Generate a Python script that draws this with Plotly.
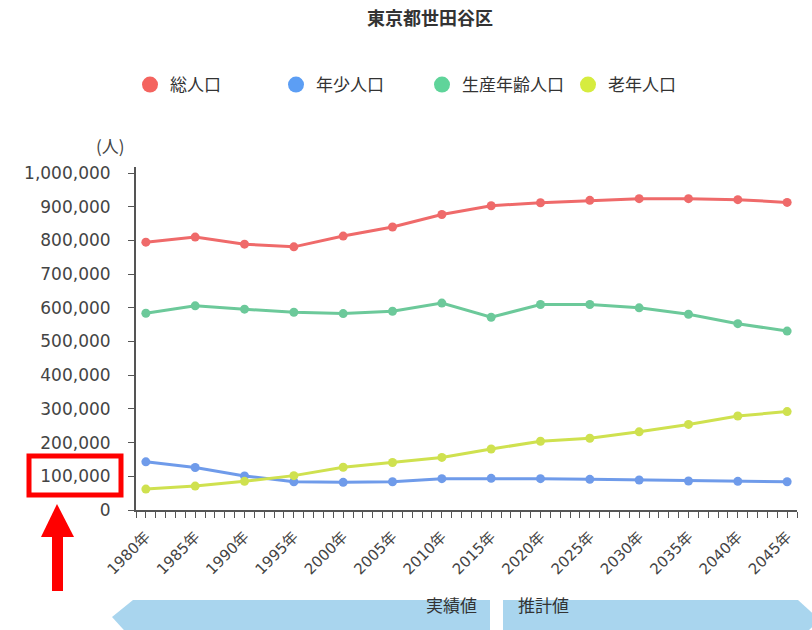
import plotly.graph_objects as go

years = [1980, 1985, 1990, 1995, 2000, 2005, 2010, 2015, 2020, 2025, 2030, 2035, 2040, 2045]
year_labels = [f"{y}年" for y in years]
total = [795000, 810000, 789000, 781000, 813000, 840000, 877000, 903000, 912000, 919000, 924000, 924000, 921000, 913000]
young = [143000, 126000, 101000, 84000, 82000, 84000, 93000, 94000, 93000, 91000, 89000, 86000, 85000, 84000]
working = [584000, 606000, 596000, 587000, 583000, 590000, 614000, 572000, 610000, 610000, 600000, 581000, 553000, 531000]
elderly = [62000, 71000, 85000, 102000, 127000, 141000, 156000, 181000, 204000, 213000, 232000, 254000, 279000, 292000]

names = ["総人口", "年少人口", "生産年齢人口", "老年人口"]
series = [total, young, working, elderly]
line_colors = ["#ef6a6a", "#6f9bea", "#6cc99a", "#cfe14f"]
legend_colors = ["#f4645f", "#5c9ef4", "#5fd49a", "#d6ec3f"]

FONT = "Noto Sans CJK JP"
NUMFONT = "DejaVu Sans, Noto Sans CJK JP"
W, H = 812, 630
L, R, T, B = 136, 15, 167, 120
PW, PH = W - L - R, H - T - B


def X(px):
    return (px - L) / PW


def Y(py):
    return (H - B - py) / PH


fig = go.Figure()
for name, vals, lc in zip(names, series, line_colors):
    fig.add_trace(go.Scatter(
        x=years, y=vals, mode="lines+markers", name=name,
        line=dict(color=lc, width=3),
        marker=dict(color=lc, size=9),
        showlegend=False, legendgroup=name,
    ))
for name, gc in zip(names, legend_colors):
    fig.add_trace(go.Scatter(
        x=[None], y=[None], mode="markers", name=name,
        marker=dict(color=gc, size=20), legendgroup=name, showlegend=True,
    ))

shapes = []
banner = "#a9d5ee"
shapes.append(dict(type="path", xref="paper", yref="paper",
                   path=f"M{X(112)},{Y(617)} L{X(133)},{Y(600)} L{X(490)},{Y(600)} L{X(490)},{Y(640)} L{X(133)},{Y(640)} Z",
                   fillcolor=banner, line=dict(width=0), layer="below"))
shapes.append(dict(type="path", xref="paper", yref="paper",
                   path=f"M{X(503)},{Y(600)} L{X(798)},{Y(600)} L{X(820)},{Y(620)} L{X(798)},{Y(640)} L{X(503)},{Y(640)} Z",
                   fillcolor=banner, line=dict(width=0), layer="below"))
shapes.append(dict(type="rect", xref="paper", yref="paper",
                   x0=X(29), x1=X(121), y0=Y(456), y1=Y(495),
                   line=dict(color="#ff0000", width=5)))
shapes.append(dict(type="path", xref="paper", yref="paper",
                   path=f"M{X(41)},{Y(537)} L{X(57)},{Y(504)} L{X(74)},{Y(537)} Z",
                   fillcolor="#ff0000", line=dict(width=0)))
shapes.append(dict(type="rect", xref="paper", yref="paper",
                   x0=X(52), x1=X(63), y0=Y(536), y1=Y(591),
                   fillcolor="#ff0000", line=dict(width=0)))

annotations = [
    dict(text="(人)", xref="paper", yref="paper", x=X(127), y=Y(160), xanchor="right", yanchor="bottom",
         showarrow=False, font=dict(family=FONT, size=17, color="#444")),
    dict(text="実績値", xref="paper", yref="paper", x=X(479), y=Y(619),
         xanchor="right", showarrow=False, font=dict(family=FONT, size=17, color="#333")),
    dict(text="推計値", xref="paper", yref="paper", x=X(516), y=Y(619),
         xanchor="left", showarrow=False, font=dict(family=FONT, size=17, color="#333")),
]

fig.update_layout(
    width=W, height=H,
    margin=dict(l=L, r=R, t=T, b=B, autoexpand=False),
    paper_bgcolor="white", plot_bgcolor="white",
    font=dict(family=FONT, color="#444"),
    title=dict(text="<b>東京都世田谷区</b>", x=430 / W, xanchor="center", y=1 - 19 / H, yanchor="middle",
               font=dict(family=FONT, size=18, color="#333")),
    legend=dict(orientation="h", x=X(130), y=Y(85), xanchor="left", yanchor="middle",
                font=dict(family=FONT, size=17, color="#333"), entrywidth=101,
                itemsizing="trace", bgcolor="rgba(0,0,0,0)"),
    xaxis=dict(range=[1979, 2046], tickvals=years, ticktext=year_labels, tickangle=-45,
               showgrid=False, zeroline=False, showline=True, linecolor="#555", linewidth=2,
               ticks="outside", ticklen=6, tickcolor="#555", ticklabelstandoff=4,
               minor=dict(dtick=1, ticks="outside", ticklen=6, tickcolor="#555", showgrid=False),
               tickfont=dict(family=NUMFONT, size=15, color="#444")),
    yaxis=dict(range=[0, 1018000], dtick=100000, tickformat=",d",
               showgrid=False, zeroline=False, showline=True, linecolor="#555", linewidth=2,
               ticks="outside", ticklen=6, tickcolor="#555", ticklabelstandoff=14,
               tickfont=dict(family=NUMFONT, size=17, color="#444")),
    shapes=shapes, annotations=annotations,
)

fig.write_html("out.html", config={"displayModeBar": False},
               post_script="document.body.style.margin='0';document.body.style.padding='0';")
